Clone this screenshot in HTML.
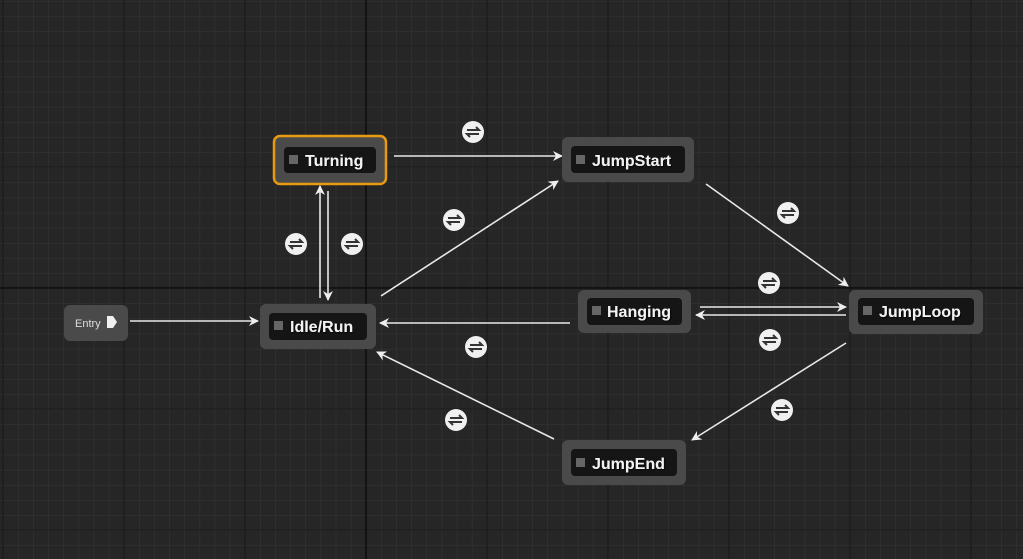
<!DOCTYPE html>
<html><head><meta charset="utf-8"><style>
html,body{margin:0;padding:0;background:#262626;overflow:hidden}
svg{display:block}
text{font-family:"Liberation Sans",sans-serif;font-weight:bold;fill:#f2f2f2}
</style></head><body>
<svg width="1023" height="559" viewBox="0 0 1023 559" xmlns="http://www.w3.org/2000/svg">
<defs>
<pattern id="minor" x="3" y="1" width="15.125" height="15.125" patternUnits="userSpaceOnUse">
<path d="M0 0H15.125M0 0V15.125" stroke="#353535" stroke-width="1" fill="none"/>
</pattern>
<marker id="ah" viewBox="0 0 10 10" refX="9" refY="5" markerWidth="10" markerHeight="10" markerUnits="userSpaceOnUse" orient="auto">
<path d="M0 0L10 5L0 10L3 5Z" fill="#eee"/>
</marker>
<g id="ic">
<circle r="11" fill="#f0f0f0"/>
<path d="M-6 -2H6L3 -5M6 2H-6L-3 5" stroke="#333" stroke-width="2" fill="none"/>
</g>
<filter id="sh"><feDropShadow dx="1" dy="1" stdDeviation="0.5" flood-color="#000" flood-opacity="0.8"/></filter>
</defs>
<rect width="1023" height="559" fill="#262626"/>
<rect width="1023" height="559" fill="url(#minor)"/>
<g stroke="#1c1c1c" stroke-width="1.3">
<path d="M3 0V559M124 0V559M245 0V559M487 0V559M608 0V559M729 0V559M850 0V559M971 0V559"/>
<path d="M0 46H1023M0 167H1023M0 409H1023M0 530H1023"/>
</g>
<g stroke="#0c0c0c" stroke-width="1.5">
<path d="M366 0V559M0 288H1023"/>
</g>

<g stroke="#e8e8e8" stroke-width="1.6" fill="none" marker-end="url(#ah)">
<path d="M130 321H258"/>
<path d="M394 156H562"/>
<path d="M320 298V186"/>
<path d="M328 191V300"/>
<path d="M381 296L558 181"/>
<path d="M706 184L848 286"/>
<path d="M570 323H380"/>
<path d="M700 307H846"/>
<path d="M846 315H696"/>
<path d="M846 343L692 440"/>
<path d="M554 439L377 352"/>
</g>

<rect x="64" y="305" width="64" height="36" rx="6" fill="#4a4a4a"/>
<text x="75" y="327" font-size="11" style="font-weight:normal;fill:#ddd">Entry</text>
<path d="M107 316H113L117 322L113 328H107Z" fill="#f0f0f0"/>

<rect x="274" y="136" width="112" height="48" rx="6" fill="#4a4a4a" stroke="#e89a10" stroke-width="2.5"/>
<rect x="284" y="147" width="92" height="26" rx="4" fill="#151515"/>
<rect x="289" y="155" width="9" height="9" fill="#666"/>
<text x="305" y="166" font-size="16" filter="url(#sh)">Turning</text>

<rect x="260" y="304" width="116" height="45" rx="6" fill="#4a4a4a"/>
<rect x="269" y="313" width="98" height="27" rx="4" fill="#151515"/>
<rect x="274" y="321" width="9" height="9" fill="#666"/>
<text x="290" y="332" font-size="16" filter="url(#sh)">Idle/Run</text>

<rect x="562" y="137" width="132" height="45" rx="6" fill="#4a4a4a"/>
<rect x="571" y="146" width="114" height="27" rx="4" fill="#151515"/>
<rect x="576" y="155" width="9" height="9" fill="#666"/>
<text x="592" y="166" font-size="16" filter="url(#sh)">JumpStart</text>

<rect x="578" y="290" width="113" height="43" rx="6" fill="#4a4a4a"/>
<rect x="587" y="298" width="95" height="27" rx="4" fill="#151515"/>
<rect x="592" y="306" width="9" height="9" fill="#666"/>
<text x="607" y="317" font-size="16" filter="url(#sh)">Hanging</text>

<rect x="849" y="290" width="134" height="44" rx="6" fill="#4a4a4a"/>
<rect x="858" y="298" width="116" height="27" rx="4" fill="#151515"/>
<rect x="863" y="306" width="9" height="9" fill="#666"/>
<text x="879" y="317" font-size="16" filter="url(#sh)">JumpLoop</text>

<rect x="562" y="440" width="124" height="45" rx="6" fill="#4a4a4a"/>
<rect x="571" y="449" width="106" height="27" rx="4" fill="#151515"/>
<rect x="576" y="458" width="9" height="9" fill="#666"/>
<text x="592" y="469" font-size="16" filter="url(#sh)">JumpEnd</text>

<use href="#ic" x="473" y="132"/>
<use href="#ic" x="296" y="244"/>
<use href="#ic" x="352" y="244"/>
<use href="#ic" x="454" y="220"/>
<use href="#ic" x="788" y="213"/>
<use href="#ic" x="769" y="283"/>
<use href="#ic" x="770" y="340"/>
<use href="#ic" x="476" y="347"/>
<use href="#ic" x="456" y="420"/>
<use href="#ic" x="782" y="410"/>
</svg>
</body></html>
